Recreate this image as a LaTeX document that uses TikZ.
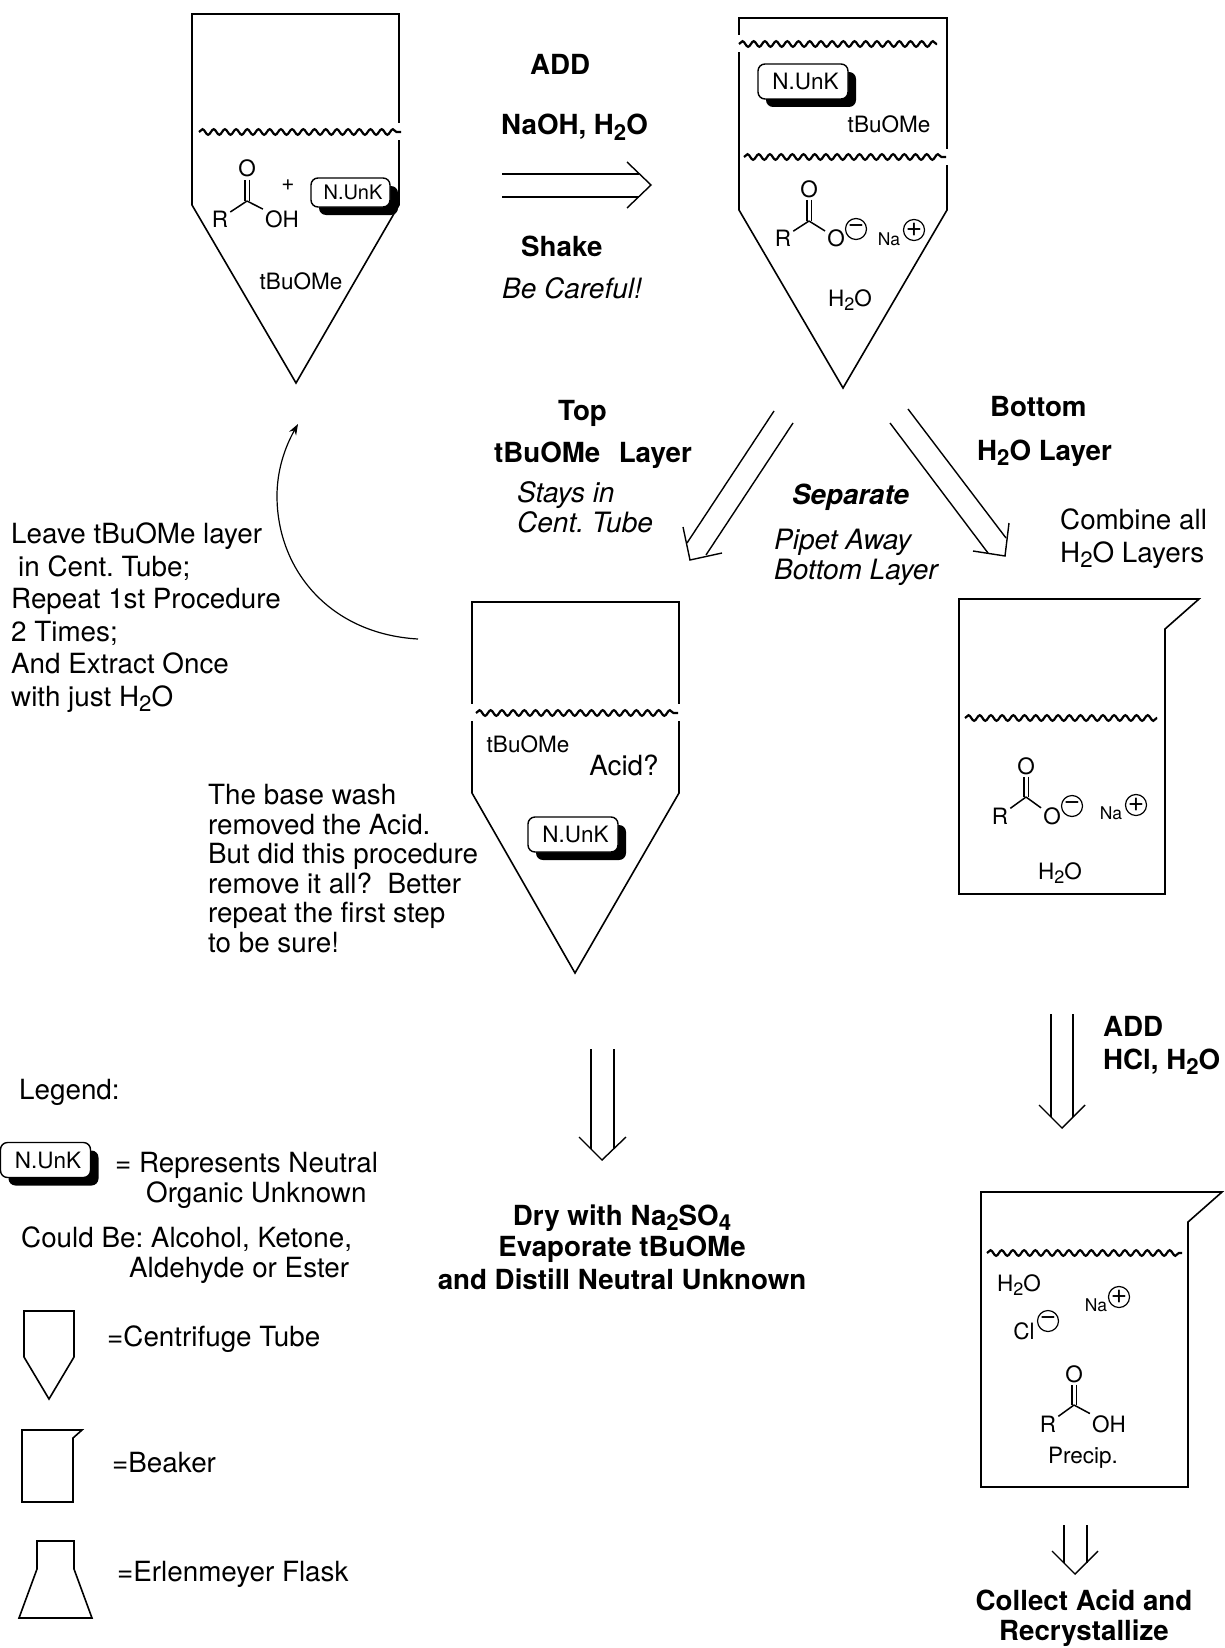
\documentclass[tikz,border=0pt]{standalone}
\usepackage{fontspec}
\setmainfont{TeX Gyre Heros}
\usetikzlibrary{arrows.meta,shadows,decorations.pathmorphing}
\frenchspacing
\newcommand{\sbs}[1]{\raisebox{-0.2em}{\scalebox{0.8}{#1}}}
\newcommand{\openarrow}[8]{%shaft ends, then the two head lines
	\coordinate (#1a) at #2; \coordinate (#1b) at #3;
	\coordinate (#1c) at #4; \coordinate (#1d) at #5;
	\coordinate (#1e) at #6; \coordinate (#1f) at #7; \coordinate (#1g) at #8;
	\draw [shaft] (#1a) -- (#1b);
	\draw [shaft] (#1c) -- (#1d);
	\draw [shaft] (#1e) -- (#1f) -- (#1g);
}
\begin{document}
\begin{tikzpicture}[x=1pt,y=1pt]
			\tikzstyle{every node}+=[inner sep=0pt]
			\tikzstyle{vessel}=[draw=black,line width=1.6pt]
			\tikzstyle{wave}=[draw=black,line width=2.2pt,decorate,decoration={snake,amplitude=2.8pt,segment length=11.2pt}]
			\tikzstyle{shaft}=[draw=black,line width=1.4pt]
			\tikzstyle{bond}=[draw=black,line width=1.5pt]
			\tikzstyle{dbond}=[draw=black,line width=1.5pt,double,double distance=3pt]
			\tikzstyle{body}=[font=\fontsize{27.8}{32.5}\selectfont,anchor=base west,align=left]
			\tikzstyle{heavy}=[font=\fontsize{27.7}{32.5}\bfseries\selectfont,anchor=base west,align=left]
			\tikzstyle{heavymid}=[font=\fontsize{27.7}{32.5}\bfseries\selectfont,anchor=base,align=center]
			\tikzstyle{slant}=[font=\fontsize{28}{30}\itshape\selectfont,anchor=base west,align=left]
			\tikzstyle{chem}=[font=\fontsize{22.5}{26}\selectfont,anchor=base,inner sep=2pt]
			\tikzstyle{small}=[font=\fontsize{17.5}{20}\selectfont,anchor=base]
			\tikzstyle{ion}=[draw=black,circle,line width=1.2pt,minimum size=21pt,font=\fontsize{28}{28}\selectfont]
			\tikzstyle{unk}=[draw=black,fill=white,line width=1.4pt,rounded corners=7pt,minimum width=90pt,minimum height=35pt,font=\fontsize{22.5}{26}\selectfont,drop shadow={shadow xshift=8pt,shadow yshift=-8pt,fill=black,opacity=1}]
			\useasboundingbox (0,0) rectangle (1225,-1648);
			\draw [vessel] (192,-14) -- (399,-14) -- (399,-205) -- (296,-383) -- (192,-205) -- cycle;
			\draw [vessel] (739,-18) -- (947,-18) -- (947,-210) -- (843,-388) -- (739,-210) -- cycle;
			\draw [vessel] (472,-602) -- (679,-602) -- (679,-793) -- (575,-973) -- (472,-793) -- cycle;
			\draw [vessel] (959,-599) -- (1199,-599) -- (1165,-629) -- (1165,-894) -- (959,-894) -- cycle;
			\draw [vessel] (981,-1192) -- (1222,-1192) -- (1188,-1222) -- (1188,-1487) -- (981,-1487) -- cycle;
			\fill [white] (396,-123) rectangle (402,-140);
			\fill [white] (736,-35) rectangle (742,-52);
			\fill [white] (944,-149) rectangle (950,-165);
			\fill [white] (469,-704) rectangle (475,-721);
			\fill [white] (676,-704) rectangle (682,-721);
			\draw [wave] (199,-132) -- (401,-132);
			\draw [wave] (739,-44) -- (937,-44);
			\draw [wave] (744,-157) -- (946,-157);
			\draw [wave] (476,-713) -- (678,-713);
			\draw [wave] (965,-718) -- (1157,-718);
			\draw [wave] (987,-1253) -- (1182,-1253);
			% first tube
			\node [chem] (oxa) at (247,-177) {O};
			\coordinate (cara) at (247,-201);
			\node [chem] (ra) at (220,-227) {R};
			\node [chem] (oha) at (282,-227) {OH};
			\draw [dbond] (oxa) -- (cara);
			\draw [bond] (ra) -- (cara);
			\draw [bond] (oha) -- (cara);
			\node [chem] (plusa) at (288,-191) {+};
			\node [unk,minimum width=79pt,minimum height=29pt,font=\fontsize{20}{24}\selectfont] (unka) at (350.5,-192.5) {\hspace{5pt}N.UnK};
			\node [chem] (tba) at (301,-289) {tBuOMe};
			% second tube
			\node [unk] (unkb) at (803,-81.5) {\hspace{5pt}N.UnK};
			\node [chem] (tbb) at (889,-132.5) {tBuOMe};
			\node [chem] (oxb) at (809,-197) {O};
			\coordinate (carb) at (809,-221);
			\node [chem] (rb) at (783,-246) {R};
			\node [chem] (oib) at (836,-246) {O};
			\draw [dbond] (oxb) -- (carb);
			\draw [bond] (rb) -- (carb);
			\draw [bond] (oib) -- (carb);
			\node [ion] (minb) at (856,-229) {−};
			\node [small] (nab) at (889,-245) {Na};
			\node [ion] (plusb) at (914,-230) {+};
			\node [chem] (wab) at (850,-306) {H\sbs{2}O};
			% third tube
			\node [chem] (tbc) at (528,-752) {tBuOMe};
			\node [body,anchor=base] (acid) at (624,-775) {Acid?};
			\node [unk] (unkc) at (573,-834.5) {\hspace{5pt}N.UnK};
			% first beaker
			\node [chem] (oxd) at (1026,-774) {O};
			\coordinate (card) at (1026,-797);
			\node [chem] (rd) at (1000,-824) {R};
			\node [chem] (oid) at (1052,-824) {O};
			\draw [dbond] (oxd) -- (card);
			\draw [bond] (rd) -- (card);
			\draw [bond] (oid) -- (card);
			\node [ion] (mind) at (1072,-806) {−};
			\node [small] (nad) at (1111,-819) {Na};
			\node [ion] (plusd) at (1136,-805) {+};
			\node [chem] (wad) at (1060,-879) {H\sbs{2}O};
			% second beaker
			\node [chem] (wae) at (1019,-1291) {H\sbs{2}O};
			\node [small] (nae) at (1096,-1311) {Na};
			\node [ion] (pluse) at (1119,-1297) {+};
			\node [chem] (cle) at (1024,-1339) {Cl};
			\node [ion] (mine) at (1048,-1321) {−};
			\node [chem] (oxe) at (1074,-1382) {O};
			\coordinate (care) at (1074,-1405);
			\node [chem] (re) at (1048,-1432) {R};
			\node [chem] (ohe) at (1109,-1432) {OH};
			\draw [dbond] (oxe) -- (care);
			\draw [bond] (re) -- (care);
			\draw [bond] (ohe) -- (care);
			\node [chem] (prec) at (1083,-1463) {Precip.};
			% reaction arrows
			\openarrow{ara}{(502,-174)}{(639,-174)}{(502,-197)}{(639,-197)}{(627,-162)}{(651,-185)}{(627,-208)}
			\openarrow{arb}{(774,-411)}{(687,-543)}{(793,-423)}{(706,-555)}{(683,-527)}{(690,-560)}{(722,-553)}
			\openarrow{arc}{(908,-409)}{(1006,-538)}{(890,-423)}{(988,-553)}{(1009,-523)}{(1005,-556)}{(973,-551)}
			\openarrow{ard}{(591,-1049)}{(591,-1149)}{(614,-1049)}{(614,-1149)}{(579,-1137)}{(602,-1160)}{(626,-1137)}
			\openarrow{are}{(1051,-1014)}{(1051,-1117)}{(1073,-1014)}{(1073,-1117)}{(1039,-1105)}{(1062,-1128)}{(1085,-1105)}
			\openarrow{arf}{(1064,-1525)}{(1064,-1563)}{(1087,-1525)}{(1087,-1563)}{(1052,-1551)}{(1075,-1574)}{(1098,-1551)}
			\coordinate (backa) at (418,-639);
			\coordinate (backb) at (277,-496);
			\coordinate (backc) at (298,-424);
			\draw [shaft,line width=1.2pt,-{Stealth[length=11pt,width=8pt]}] (backa) .. controls (330,-634) and (277,-570) .. (backb) .. controls (277,-470) and (285,-447) .. (backc);
			% labels
			\node [heavy] (adda) at (530,-75) {ADD};
			\node [heavy] (naoh) at (501,-135) {NaOH, H\sbs{2}O};
			\node [heavy] (shake) at (521,-256) {Shake};
			\node [slant] (careful) at (502,-298) {Be Careful!};
			\node [heavy] (top) at (558,-420) {Top};
			\node [heavy] (toplayer) at (494,-462) {tBuOMe\ \ \hspace{3pt}Layer};
			\node [slant] (stays) at (517,-532) {Stays in\\Cent. Tube};
			\node [heavy,font=\fontsize{27.7}{32.5}\bfseries\itshape\selectfont] (sep) at (792,-504) {Separate};
			\node [slant] (pipet) at (774,-579) {Pipet Away\\Bottom Layer};
			\node [heavy] (bot) at (990,-416) {Bottom};
			\node [heavy] (botlayer) at (977,-460) {H\sbs{2}O Layer};
			\node [body] (comb) at (1060,-562) {Combine all\\H\sbs{2}O Layers};
			\node [body] (leave) at (11,-706) {Leave tBuOMe layer\\\hspace{7pt}in Cent. Tube;\\Repeat 1st Procedure\\2 Times;\\And Extract Once\\with just H\sbs{2}O};
			\node [body] (wash) at (208,-952) {The base wash\\[-3pt]removed the Acid.\\[-3pt]But did this procedure\\[-3pt]remove it all?\ \ Better\\[-3pt]repeat the first step\\[-3pt]to be sure!};
			\node [heavymid] (dry) at (622,-1289) {Dry with Na\sbs{2}SO\sbs{4}\\[-1pt]Evaporate tBuOMe\\and Distill Neutral Unknown};
			\node [heavy] (addb) at (1103,-1036) {ADD};
			\node [heavy] (hcl) at (1103,-1069) {HCl, H\sbs{2}O};
			\node [heavymid] (coll) at (1084,-1640) {Collect Acid and\\[-3pt]Recrystallize};
			% legend
			\node [body] (leg) at (19,-1099) {Legend:};
			\node [unk] (unkl) at (45.5,-1160) {\hspace{5pt}N.UnK};
			\node [body] (repa) at (115,-1172) {= Represents Neutral};
			\node [body] (repb) at (146,-1202) {Organic Unknown};
			\node [body] (coula) at (21,-1247) {Could Be: Alcohol, Ketone,};
			\node [body] (coulb) at (129,-1277) {Aldehyde or Ester};
			\draw [vessel] (24,-1311) -- (74,-1311) -- (74,-1357) -- (49,-1399) -- (24,-1357) -- cycle;
			\node [body] (legtube) at (107,-1346) {=Centrifuge Tube};
			\draw [vessel] (22,-1430) -- (82,-1430) -- (73,-1438) -- (73,-1502) -- (22,-1502) -- cycle;
			\node [body] (legbeak) at (112,-1472) {=Beaker};
			\draw [vessel] (37,-1541) -- (74,-1541) -- (74,-1569) -- (92,-1618) -- (19,-1618) -- (37,-1569) -- cycle;
			\node [body] (legflask) at (117,-1581) {=Erlenmeyer Flask};
		\end{tikzpicture}
\end{document}
